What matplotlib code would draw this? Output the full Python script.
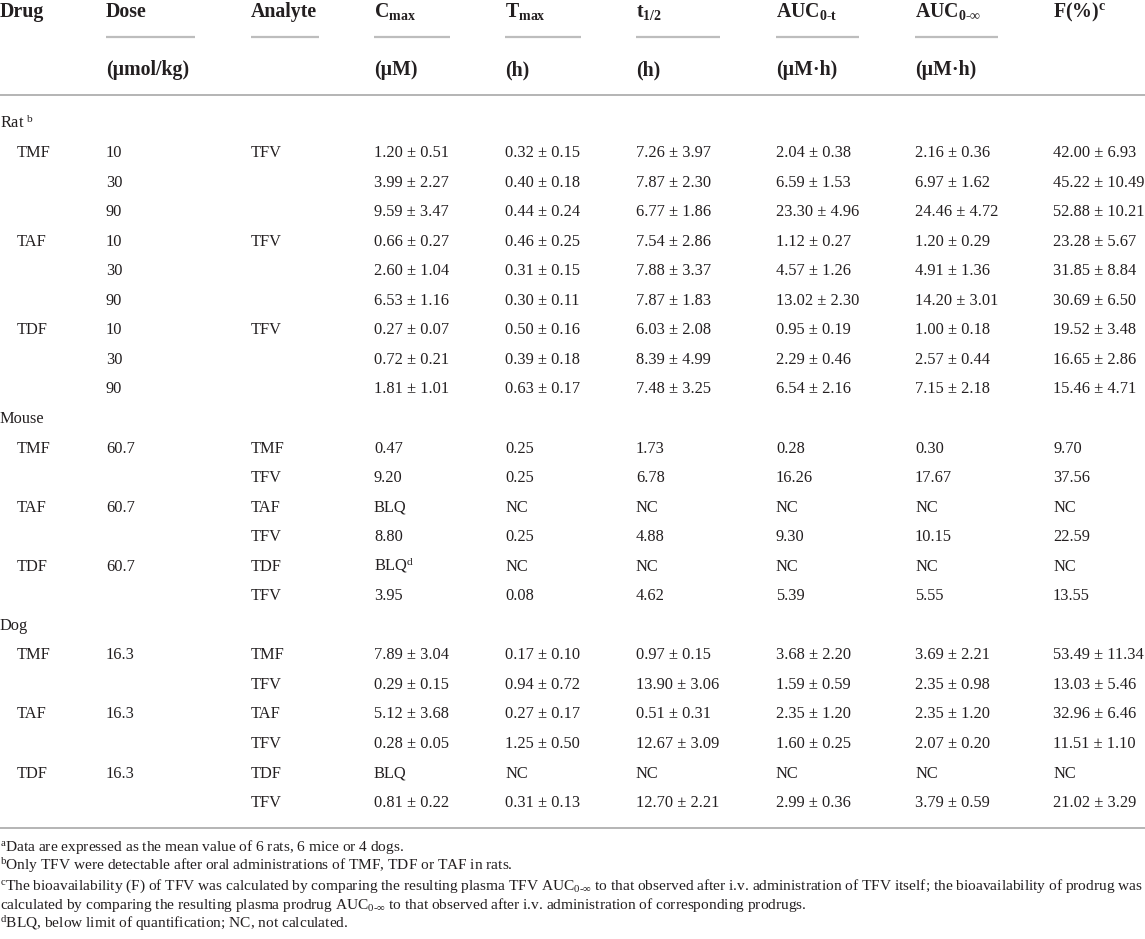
import matplotlib
matplotlib.use("Agg")
import matplotlib.pyplot as plt

# fonts: serif text, mathtext for the sub/superscripts
plt.rcParams['font.family'] = ['Liberation Serif', 'DejaVu Serif']
plt.rcParams['mathtext.fontset'] = 'custom'
plt.rcParams['mathtext.rm'] = 'Liberation Serif'
plt.rcParams['mathtext.bf'] = 'Liberation Serif:bold'
plt.rcParams['mathtext.it'] = 'Liberation Serif:italic'

# table content
header_top = ['Drug', 'Dose', 'Analyte', r'$\mathbf{C}_{\mathbf{max}}$', r'$\mathbf{T}_{\mathbf{max}}$',
              r'$\mathbf{t}_{\mathbf{1/2}}$', r'$\mathbf{AUC}_{\mathbf{0‐t}}$',
              r'$\mathbf{AUC}_{\mathbf{0‐\infty}}$', r'F(%)$^{\mathbf{c}}$']
header_units = ['', '(µmol/kg)', '', '(µM)', '(h)', '(h)', '(µM·h)', '(µM·h)', '']

species = [r'Rat $^{\mathrm{b}}$', 'Mouse', 'Dog']
species_rows = [9, 6, 6]

drug = ['TMF', '', '', 'TAF', '', '', 'TDF', '', '',
        'TMF', '', 'TAF', '', 'TDF', '',
        'TMF', '', 'TAF', '', 'TDF', '']
dose = ['10', '30', '90', '10', '30', '90', '10', '30', '90',
        '60.7', '', '60.7', '', '60.7', '',
        '16.3', '', '16.3', '', '16.3', '']
analyte = ['TFV', '', '', 'TFV', '', '', 'TFV', '', '',
           'TMF', 'TFV', 'TAF', 'TFV', 'TDF', 'TFV',
           'TMF', 'TFV', 'TAF', 'TFV', 'TDF', 'TFV']
cmax = ['1.20 ± 0.51', '3.99 ± 2.27', '9.59 ± 3.47', '0.66 ± 0.27', '2.60 ± 1.04', '6.53 ± 1.16',
        '0.27 ± 0.07', '0.72 ± 0.21', '1.81 ± 1.01',
        '0.47', '9.20', 'BLQ', '8.80', r'BLQ$^{\mathrm{d}}$', '3.95',
        '7.89 ± 3.04', '0.29 ± 0.15', '5.12 ± 3.68', '0.28 ± 0.05', 'BLQ', '0.81 ± 0.22']
tmax = ['0.32 ± 0.15', '0.40 ± 0.18', '0.44 ± 0.24', '0.46 ± 0.25', '0.31 ± 0.15', '0.30 ± 0.11',
        '0.50 ± 0.16', '0.39 ± 0.18', '0.63 ± 0.17',
        '0.25', '0.25', 'NC', '0.25', 'NC', '0.08',
        '0.17 ± 0.10', '0.94 ± 0.72', '0.27 ± 0.17', '1.25 ± 0.50', 'NC', '0.31 ± 0.13']
t_half = ['7.26 ± 3.97', '7.87 ± 2.30', '6.77 ± 1.86', '7.54 ± 2.86', '7.88 ± 3.37', '7.87 ± 1.83',
          '6.03 ± 2.08', '8.39 ± 4.99', '7.48 ± 3.25',
          '1.73', '6.78', 'NC', '4.88', 'NC', '4.62',
          '0.97 ± 0.15', '13.90 ± 3.06', '0.51 ± 0.31', '12.67 ± 3.09', 'NC', '12.70 ± 2.21']
auc_0t = ['2.04 ± 0.38', '6.59 ± 1.53', '23.30 ± 4.96', '1.12 ± 0.27', '4.57 ± 1.26', '13.02 ± 2.30',
          '0.95 ± 0.19', '2.29 ± 0.46', '6.54 ± 2.16',
          '0.28', '16.26', 'NC', '9.30', 'NC', '5.39',
          '3.68 ± 2.20', '1.59 ± 0.59', '2.35 ± 1.20', '1.60 ± 0.25', 'NC', '2.99 ± 0.36']
auc_0inf = ['2.16 ± 0.36', '6.97 ± 1.62', '24.46 ± 4.72', '1.20 ± 0.29', '4.91 ± 1.36', '14.20 ± 3.01',
            '1.00 ± 0.18', '2.57 ± 0.44', '7.15 ± 2.18',
            '0.30', '17.67', 'NC', '10.15', 'NC', '5.55',
            '3.69 ± 2.21', '2.35 ± 0.98', '2.35 ± 1.20', '2.07 ± 0.20', 'NC', '3.79 ± 0.59']
f_pct = ['42.00 ± 6.93', '45.22 ± 10.49', '52.88 ± 10.21', '23.28 ± 5.67', '31.85 ± 8.84', '30.69 ± 6.50',
         '19.52 ± 3.48', '16.65 ± 2.86', '15.46 ± 4.71',
         '9.70', '37.56', 'NC', '22.59', 'NC', '13.55',
         '53.49 ± 11.34', '13.03 ± 5.46', '32.96 ± 6.46', '11.51 ± 1.10', 'NC', '21.02 ± 3.29']

footnotes = [
    r'$^{\mathrm{a}}$Data are expressed as the mean value of 6 rats, 6 mice or 4 dogs.',
    r'$^{\mathrm{b}}$Only TFV were detectable after oral administrations of TMF, TDF or TAF in rats.',
    r'$^{\mathrm{c}}$The bioavailability (F) of TFV was calculated by comparing the resulting plasma TFV '
    r'AUC$_{0‐\infty}$ to that observed after i.v. administration of TFV itself; the bioavailability of prodrug was',
    r'calculated by comparing the resulting plasma prodrug AUC$_{0‐\infty}$ to that observed after i.v. '
    r'administration of corresponding prodrugs.',
    r'$^{\mathrm{d}}$BLQ, below limit of quantification; NC, not calculated.',
]

# layout (pixel coordinates)
W, H = 1145, 939
col_x = [0, 106, 251, 374, 505, 636, 776, 915, 1053]
drug_indent = 17
underline_w = [0, 89, 68, 76, 76, 84, 83, 83, 0]
TXT = '#231f20'
body_size = 11.8
head_size = 14.3
foot_size = 11.1

fig = plt.figure(figsize=(W / 100, H / 100), dpi=100)
ax = fig.add_axes([0, 0, 1, 1])
ax.set_xlim(0, W)
ax.set_ylim(H, 0)
ax.axis('off')

# header
for x, top, unit, uw in zip(col_x, header_top, header_units, underline_w):
    ax.text(x, 17, top, fontsize=head_size, fontweight='bold', color=TXT, va='baseline')
    if unit:
        ax.text(x, 75, unit, fontsize=head_size, fontweight='bold', color=TXT, va='baseline')
    if uw:
        ax.plot([x, x + uw], [37, 37], color='#bdbdbd', lw=1.6, solid_capstyle='butt')

ax.plot([0, W], [95, 95], color='#a8a8a8', lw=1.2)

# body
row0 = 127.5
step = 29.55
columns = [drug, dose, analyte, cmax, tmax, t_half, auc_0t, auc_0inf, f_pct]
line = 0
k = 0
for name, n in zip(species, species_rows):
    ax.text(0, row0 + line * step, name, fontsize=body_size, color=TXT, va='baseline')
    line += 1
    for _ in range(n):
        y = row0 + line * step
        for c, col in enumerate(columns):
            x = col_x[c] + (drug_indent if c == 0 else 0)
            if col[k]:
                ax.text(x, y, col[k], fontsize=body_size, color=TXT, va='baseline')
        line += 1
        k += 1

ax.plot([0, W], [828, 828], color='#a8a8a8', lw=1.2)

# footnotes
for i, note in enumerate(footnotes):
    ax.text(0, 851 + i * 19.3, note, fontsize=foot_size, color=TXT, va='baseline')

fig.savefig('out.png', dpi=100, facecolor='white')
